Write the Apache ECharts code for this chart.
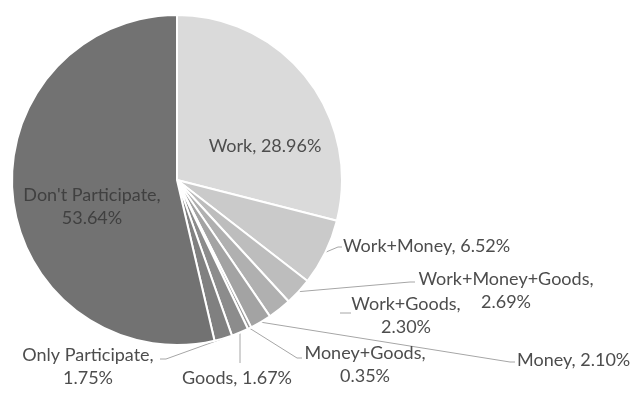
<!DOCTYPE html>
<html>
<head>
<meta charset="utf-8">
<script src="https://cdn.jsdelivr.net/npm/echarts@6/dist/echarts.min.js"></script>
<style>
  html, body { margin: 0; padding: 0; background: #ffffff; }
  #chart { width: 638px; height: 394px; }
</style>
</head>
<body>
<div id="chart"></div>
<script>
// Participation shares (percent), clockwise from 12 o'clock
const categories = ['Work', 'Work+Money', 'Work+Money+Goods', 'Work+Goods', 'Money',
                    'Money+Goods', 'Goods', 'Only Participate', "Don't Participate"];
const shares = [28.96, 6.52, 2.69, 2.30, 2.10, 0.35, 1.67, 1.75, 53.64];

const sliceColors = ['#dadada', '#cacaca', '#bdbdbd', '#b0b0b0', '#a3a3a3',
                     '#989898', '#8c8c8c', '#808080', '#727272'];

// Where each label sits, and the bend/end of its leader line
const labelSpots = [
  { x: 265, y: 146, align: 'center', inside: true },
  { x: 343, y: 246, align: 'left',   path: [[338, 247], [342, 247]] },
  { x: 506, y: 291, align: 'center', wrap: true, path: [[410, 282], [415, 282]] },
  { x: 406, y: 316, align: 'center', wrap: true, detached: [[340, 313], [351, 313]] },
  { x: 517, y: 360, align: 'left',   path: [[510, 362], [515, 362]] },
  { x: 365, y: 365, align: 'center', wrap: true, path: [[297, 358], [302, 358]] },
  { x: 237, y: 378, align: 'center', path: [[240, 363]] },
  { x: 88,  y: 367, align: 'center', wrap: true, path: [[166, 359], [160, 359]] },
  { x: 92,  y: 207, align: 'center', inside: true, wrap: true, dark: true }
];

const chart = echarts.init(document.getElementById('chart'), null, { renderer: 'canvas' });

const pieData = categories.map((name, i) => ({
  name: name,
  value: shares[i],
  itemStyle: { color: sliceColors[i] },
  label: {
    position: labelSpots[i].inside ? 'inside' : 'outside',
    color: labelSpots[i].dark ? '#404040' : '#4d4d4d'
  },
  labelLine: { show: !labelSpots[i].inside }
}));

chart.setOption({
  animation: false,
  series: [{
    type: 'pie',
    center: [177, 180],
    radius: 165,
    startAngle: 90,
    clockwise: true,
    avoidLabelOverlap: false,
    minShowLabelAngle: 0,
    itemStyle: { borderColor: '#ffffff', borderWidth: 2 },
    label: {
      show: true,
      fontFamily: 'Lato',
      fontSize: 18,
      lineHeight: 23,
      color: '#4d4d4d',
      formatter: (p) => {
        const sep = labelSpots[p.dataIndex].wrap ? ',\n' : ', ';
        return p.name + sep + p.value.toFixed(2) + '%';
      }
    },
    labelLine: {
      show: true,
      length: 10,
      length2: 10,
      lineStyle: { color: '#a6a6a6', width: 1 }
    },
    labelLayout: (params) => {
      const spot = labelSpots[params.dataIndex];
      const out = { x: spot.x, y: spot.y, align: spot.align, verticalAlign: 'middle' };
      if (spot.detached) {
        out.labelLinePoints = spot.detached;
      } else if (spot.path && params.labelLinePoints) {
        out.labelLinePoints = [params.labelLinePoints[0]].concat(spot.path);
      }
      return out;
    },
    data: pieData
  }]
});
</script>
</body>
</html>
